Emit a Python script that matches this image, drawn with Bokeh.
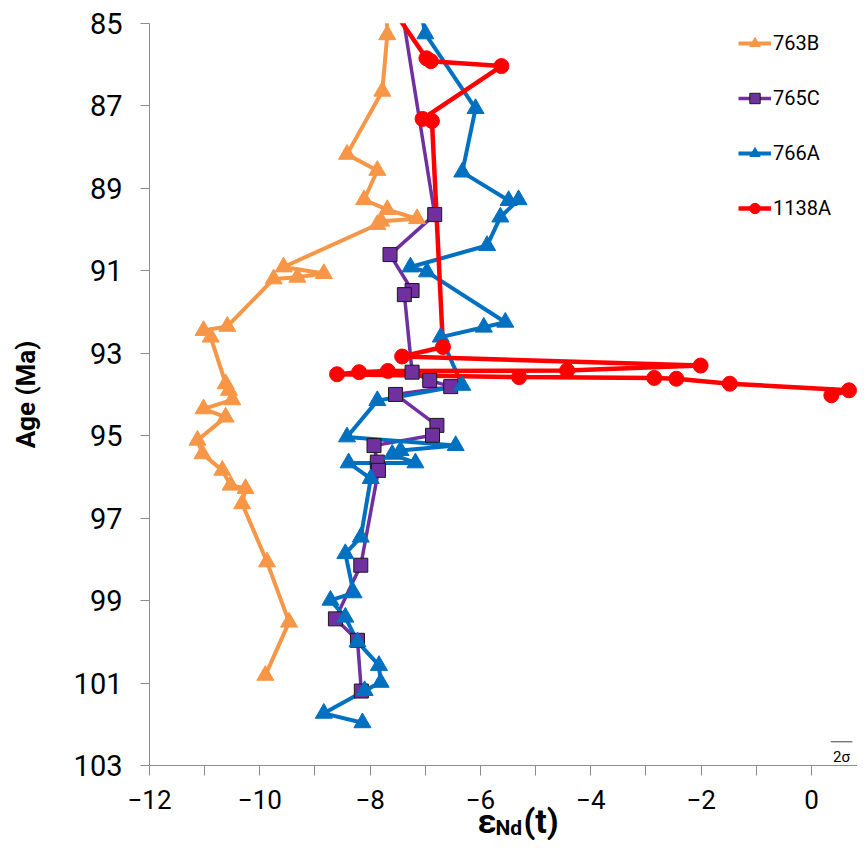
from bokeh.plotting import figure
from bokeh.models import Range1d, FixedTicker, Legend, LegendItem, Label, BoxAnnotation
from bokeh.embed import file_html
from bokeh.resources import INLINE

# ---------------- data (epsilon Nd(t), age Ma) ----------------
eps_763B = [-7.70, -7.69, -7.78, -8.42, -7.87, -8.11, -7.69, -7.15, -7.80, -7.87,
            -9.57, -8.84, -9.32, -9.75, -10.59, -11.02, -10.89, -10.62, -10.56, -10.50,
            -11.02, -10.62, -11.13, -11.04, -10.68, -10.53, -10.26, -10.32, -9.87, -9.47, -9.90]
age_763B = [84.80, 85.28, 86.65, 88.18, 88.57, 89.28, 89.52, 89.74, 89.80, 89.88,
            90.91, 91.07, 91.16, 91.20, 92.35, 92.45, 92.61, 93.74, 93.90, 94.13,
            94.35, 94.55, 95.11, 95.44, 95.84, 96.20, 96.28, 96.65, 98.06, 99.52, 100.81]

eps_765C = [-7.41, -6.83, -7.64, -7.24, -7.38, -7.24, -6.92, -6.54, -7.54, -6.79,
            -6.87, -7.93, -7.87, -7.85, -8.17, -8.63, -8.23, -8.16]
age_765C = [84.80, 89.64, 90.61, 91.48, 91.58, 93.46, 93.66, 93.81, 94.00, 94.75,
            94.99, 95.24, 95.64, 95.84, 98.14, 99.44, 99.96, 101.19]

eps_766A = [-7.07, -7.00, -6.09, -6.33, -5.49, -5.31, -5.64, -5.88, -7.27, -6.97,
            -5.55, -5.94, -6.72, -6.33, -7.87, -8.42, -6.45, -7.45, -7.60, -7.18,
            -8.39, -7.99, -8.17, -8.45, -8.30, -8.72, -8.45, -8.23, -7.84, -7.81,
            -8.10, -8.84, -8.14]
age_766A = [84.80, 85.26, 87.07, 88.61, 89.30, 89.28, 89.70, 90.39, 90.91, 91.03,
            92.25, 92.37, 92.61, 93.78, 94.15, 95.03, 95.24, 95.36, 95.45, 95.66,
            95.66, 96.04, 97.46, 97.86, 98.81, 98.99, 99.40, 100.00, 100.57, 100.98,
            101.18, 101.73, 101.96]

eps_1138A = [-7.52, -6.98, -6.90, -5.62, -7.05, -6.88, -6.68, -7.42, -2.01, -4.43,
             -7.68, -8.20, -8.60, -5.30, -2.85, -2.45, -1.48, 0.68, 0.36]
age_1138A = [84.80, 85.85, 85.92, 86.04, 87.32, 87.37, 92.85, 93.08, 93.30, 93.42,
             93.43, 93.46, 93.51, 93.58, 93.60, 93.62, 93.74, 93.90, 94.02]

x_ticks = [-12, -10, -8, -6, -4, -2, 0]
x_minor = [-11, -9, -7, -5, -3, -1]
y_ticks = [85, 87, 89, 91, 93, 95, 97, 99, 101, 103]
X_MIN_AXIS = -12
Y_MIN_AXIS, Y_MAX_AXIS = 85, 103

err_x = [0.35, 0.74]   # 2 sigma bar
err_y = [102.42, 102.42]

FONT = "Roboto"
C_ORANGE = "#F79646"
C_PURPLE = "#7030A0"
C_BLUE = "#0070C0"
C_RED = "#FF0000"

# frame = whole canvas; axes drawn at fixed locations inside it
X_START, X_END = -14.701, 0.834
Y_TOP, Y_BOTTOM = 84.450, 104.813

p = figure(width=857, height=840, output_backend="svg", toolbar_location=None,
           x_range=Range1d(X_START, X_END), y_range=Range1d(Y_BOTTOM, Y_TOP),
           min_border_left=0, min_border_right=0, min_border_top=0,
           min_border_bottom=0)
p.outline_line_color = None
p.xgrid.visible = False
p.ygrid.visible = False
p.background_fill_color = "white"
p.border_fill_color = "white"

for ax in (p.xaxis[0], p.yaxis[0]):
    ax.axis_line_color = "#8c8c8c"
    ax.major_tick_line_color = "#8c8c8c"
    ax.minor_tick_line_color = "#8c8c8c"
    ax.major_tick_in = 0
    ax.minor_tick_in = 0
    ax.major_label_text_font = FONT
    ax.major_label_text_color = "#000000"

p.xaxis.fixed_location = Y_MAX_AXIS
p.xaxis.bounds = (X_MIN_AXIS, X_END)
p.xaxis.ticker = FixedTicker(ticks=x_ticks, minor_ticks=x_minor)
p.xaxis.major_tick_out = 10
p.xaxis.minor_tick_out = 10
p.xaxis.major_label_text_font_size = "26px"
p.xaxis.major_label_standoff = 14

p.yaxis.fixed_location = X_MIN_AXIS
p.yaxis.bounds = (Y_MIN_AXIS, Y_MAX_AXIS)
p.yaxis.ticker = FixedTicker(ticks=y_ticks, minor_ticks=[])
p.yaxis.major_tick_out = 9
p.yaxis.major_label_text_font_size = "29px"
p.yaxis.major_label_standoff = 18
p.yaxis.axis_label = "Age (Ma)"
p.yaxis.axis_label_text_font = FONT
p.yaxis.axis_label_text_font_style = "bold"
p.yaxis.axis_label_text_font_size = "26px"
p.yaxis.axis_label_text_color = "#000000"
p.yaxis.axis_label_standoff = 30

# lines first (all series), then markers
l_o = p.line(eps_763B, age_763B, line_color=C_ORANGE, line_width=4)
l_p = p.line(eps_765C, age_765C, line_color=C_PURPLE, line_width=3.5)
l_b = p.line(eps_766A, age_766A, line_color=C_BLUE, line_width=4)
l_r = p.line(eps_1138A, age_1138A, line_color=C_RED, line_width=4.5)

s_o = p.scatter(eps_763B, age_763B, marker="triangle", size=17,
                fill_color=C_ORANGE, line_color=C_ORANGE, line_width=1)
s_p = p.scatter(eps_765C, age_765C, marker="square", size=14,
                fill_color=C_PURPLE, line_color="#1a1a1a", line_width=1)
s_b = p.scatter(eps_766A, age_766A, marker="triangle", size=17,
                fill_color=C_BLUE, line_color=C_BLUE, line_width=1)
s_r = p.scatter(eps_1138A, age_1138A, marker="circle", size=15,
                fill_color=C_RED, line_color=C_RED, line_width=1)

# plot area ends at the top of the age axis: mask what lies above it
mask = BoxAnnotation(bottom=Y_MIN_AXIS, top=Y_TOP - 2, fill_color="white",
                     fill_alpha=1.0, line_alpha=0, level="glyph")
p.renderers.append(mask)

legend = Legend(items=[
    LegendItem(label="763B", renderers=[l_o, s_o]),
    LegendItem(label="765C", renderers=[l_p, s_p]),
    LegendItem(label="766A", renderers=[l_b, s_b]),
    LegendItem(label="1138A", renderers=[l_r, s_r]),
], location=(738, 619))
legend.padding = 0
legend.margin = 0
legend.spacing = 29
legend.glyph_height = 26
legend.label_height = 26
legend.glyph_width = 33
legend.label_standoff = 2
legend.label_text_font = FONT
legend.label_text_font_size = "20px"
legend.label_text_color = "#000000"
legend.border_line_color = None
legend.background_fill_alpha = 0
p.add_layout(legend)

# 2 sigma bar
p.line(err_x, err_y, line_color="#404040", line_width=1)
p.add_layout(Label(x=sum(err_x) / 2, y=102.80, text="2σ", text_font=FONT,
                   text_font_size="15px", text_align="center",
                   text_baseline="alphabetic", text_color="#000000"))

# x-axis title: εNd(t)
XT = -5.33
p.add_layout(Label(x=XT, y=104.33, x_offset=-40, text="ε", text_font=FONT,
                   text_font_style="bold", text_font_size="34px",
                   text_align="left", text_baseline="alphabetic", text_color="#000000"))
p.add_layout(Label(x=XT, y=104.50, x_offset=-22, text="Nd", text_font=FONT,
                   text_font_style="bold", text_font_size="21px",
                   text_align="left", text_baseline="alphabetic", text_color="#000000"))
p.add_layout(Label(x=XT, y=104.33, x_offset=6, text="(t)", text_font=FONT,
                   text_font_style="bold", text_font_size="34px",
                   text_align="left", text_baseline="alphabetic", text_color="#000000"))

open("out.html", "w").write(file_html(p, INLINE))
